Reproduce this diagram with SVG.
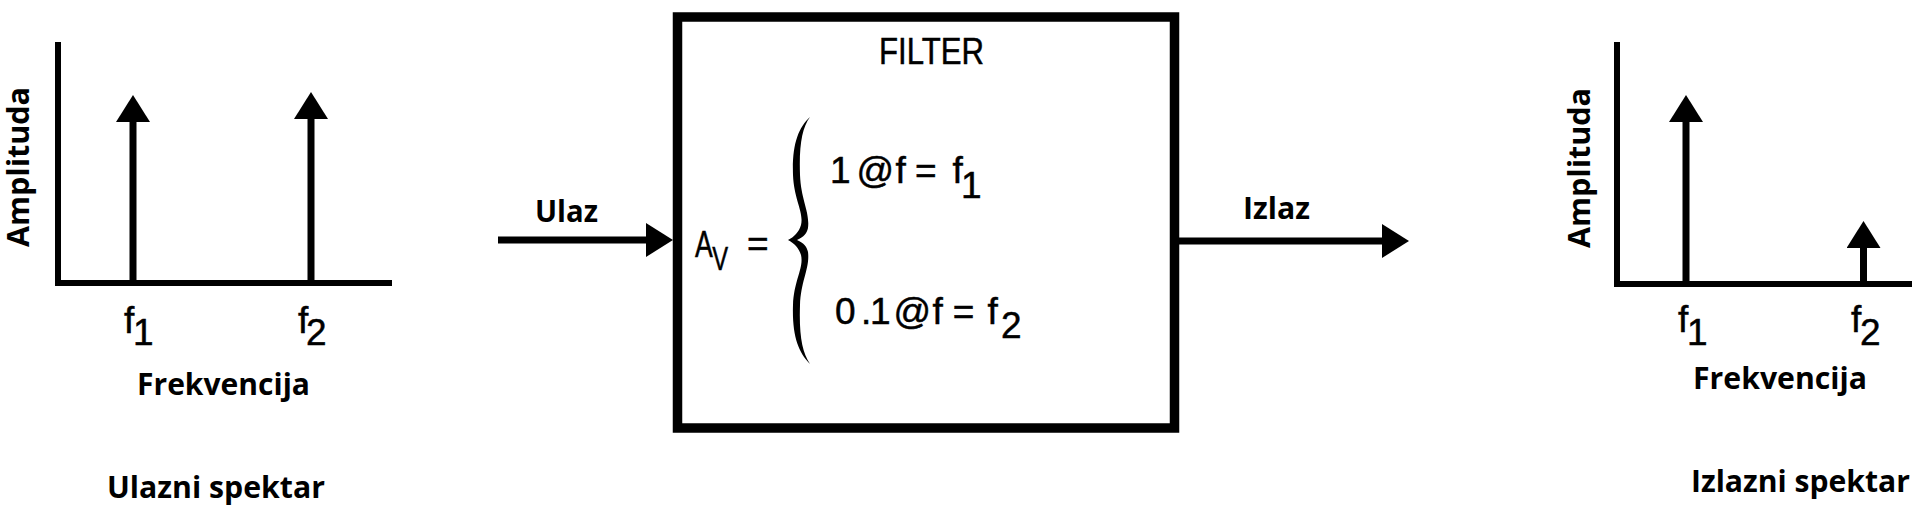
<svg xmlns="http://www.w3.org/2000/svg" width="1919" height="524" viewBox="0 0 1919 524">
  <defs>
    <style>
      .ln { stroke: #000; stroke-width: 6; fill: none; }
      .arr { stroke: #000; stroke-width: 7; fill: none; marker-end: url(#head); }
      .lbl { font-family: "Open Sans", Lato, sans-serif; font-weight: bold; font-size: 30px; fill: #000; }
      .math { font-family: "Liberation Sans", Arial, sans-serif; font-size: 37px; fill: #000; stroke: #000; stroke-width: 0.5px; }
    </style>
    <marker id="head" viewBox="0 0 28 34" markerWidth="28" markerHeight="34" refX="4" refY="17" orient="auto" markerUnits="userSpaceOnUse">
      <path d="M0,0 L27,17 L0,34 Z" fill="#000"/>
    </marker>
  </defs>
  <rect width="1919" height="524" fill="#fff"/>

  <g id="input-spectrum">
    <line class="ln" x1="58" y1="42" x2="58" y2="286"/>
    <line class="ln" x1="55" y1="283" x2="392" y2="283"/>
    <line class="arr" x1="133" y1="283" x2="133" y2="118"/>
    <line class="arr" x1="311" y1="283" x2="311" y2="115"/>
    <text class="lbl" font-size="32" text-anchor="middle" transform="translate(29,167) rotate(-90)" textLength="160" lengthAdjust="spacingAndGlyphs">Amplituda</text>
    <text class="math" x="124" y="333">f<tspan x="133" y="345">1</tspan></text>
    <text class="math" x="298" y="333">f<tspan x="306" y="345">2</tspan></text>
    <text class="lbl" x="137" y="395" textLength="173" lengthAdjust="spacingAndGlyphs">Frekvencija</text>
    <text class="lbl" x="107" y="498" textLength="218" lengthAdjust="spacingAndGlyphs">Ulazni spektar</text>
  </g>

  <g id="filter">
    <rect x="677.5" y="17" width="497" height="411" fill="none" stroke="#000" stroke-width="9.5"/>
    <text class="math" font-size="32" x="879" y="64" textLength="105" lengthAdjust="spacingAndGlyphs">FILTER</text>
    <text class="math" transform="translate(695,0) scale(0.72,1)" font-size="38" x="0" y="257">A<tspan x="24" y="270" font-size="33">V</tspan></text>
    <text class="math" x="747" y="256">=</text>
    <path fill="#000" d="M810,117 C798,128 792,145 793,175 C794,200 804,212 801,225 C799,232 794,237 788,240 C794,243 799,248 801,255 C804,268 794,280 793,305 C792,335 798,352 810,364 C802,352 799,335 800,305 C801,280 810,268 808,252 C807,247 804,243 797,240 C804,237 807,233 808,228 C810,212 801,200 800,175 C799,145 802,128 810,117 Z"/>
    <text class="math" x="830 856.5 895.5 905 915 933 952.5" y="183">1@f = f<tspan x="961" y="198">1</tspan></text>
    <text class="math" x="835 861 870 893.5 932.5 942 952.7 972 987.5" y="324">0.1@f = f<tspan x="1001" y="338">2</tspan></text>
  </g>

  <g id="output-spectrum">
    <line class="ln" x1="1617" y1="42" x2="1617" y2="287"/>
    <line class="ln" x1="1614" y1="284" x2="1912" y2="284"/>
    <line class="arr" x1="1686" y1="284" x2="1686" y2="118"/>
    <line class="arr" x1="1863.5" y1="284" x2="1863.5" y2="244"/>
    <text class="lbl" font-size="31" text-anchor="middle" transform="translate(1590,168) rotate(-90)" textLength="160" lengthAdjust="spacingAndGlyphs">Amplituda</text>
    <text class="math" x="1678" y="332">f<tspan x="1687" y="345">1</tspan></text>
    <text class="math" x="1851" y="332">f<tspan x="1860" y="345">2</tspan></text>
    <text class="lbl" x="1693" y="389" textLength="174" lengthAdjust="spacingAndGlyphs">Frekvencija</text>
    <text class="lbl" x="1691" y="492" textLength="219" lengthAdjust="spacingAndGlyphs">Izlazni spektar</text>
  </g>

  <g id="connectors">
    <line class="arr" x1="498" y1="240" x2="650" y2="240"/>
    <text class="lbl" x="535" y="222" textLength="63" lengthAdjust="spacingAndGlyphs">Ulaz</text>
    <line class="arr" x1="1179" y1="241" x2="1386" y2="241"/>
    <text class="lbl" x="1243" y="219" textLength="67" lengthAdjust="spacingAndGlyphs">Izlaz</text>
  </g>
</svg>
